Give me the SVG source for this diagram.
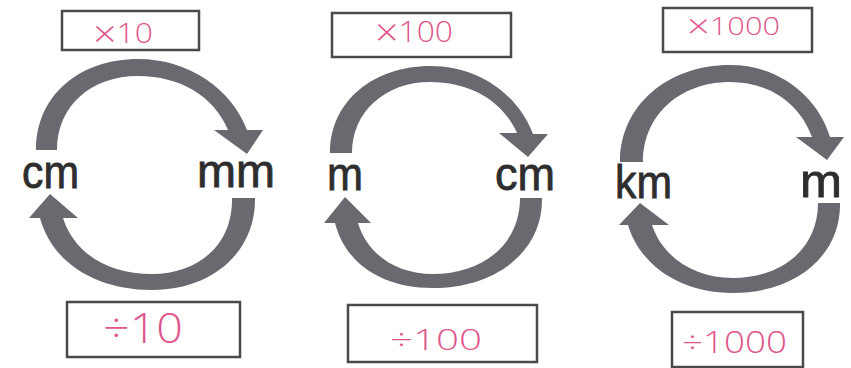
<svg xmlns="http://www.w3.org/2000/svg" width="851" height="368" viewBox="0 0 851 368">
  <style>
    .box { fill: #ffffff; stroke: #4a4a4a; stroke-width: 2.5; }
    .op { font-family: "Open Sans", "Liberation Sans", sans-serif; font-weight: 300; fill: #e0568c; }
    .sign { font-size: 1.3em; }
    .unit { font-family: "Liberation Sans", Arial, sans-serif; font-size: 46px; fill: #2e2e2e; stroke: #2e2e2e; stroke-width: 0.8; }
    .arrow { fill: #69696f; }
  </style>
  <rect width="851" height="368" fill="#ffffff"/>

  <!-- curved conversion arrows -->
  <g id="connectors">
    <path class="arrow" d="M36,150 C36,95 80,59 138,59 C190,59 232,90 247,130 L263,130 L247,154 L214,130 L228,130 C214,96 180,76 138,76 C92,76 57,105 57,150 Z"/>
    <path class="arrow" d="M255,198 C256,252 212,290 152,290 C95,290 52,262 40,218 L29,218 L50,194 L78,218 L63,218 C75,255 110,274 152,274 C198,274 233,245 232,198 Z"/>
    <path class="arrow" d="M330,153 C330,100 375,66 430,66 C480,66 518,95 533,134 L548,134 L528,157 L499,133 L517,133 C503,102 472,82 430,82 C385,82 352,112 352,153 Z"/>
    <path class="arrow" d="M542,198 C543,252 495,288 433,288 C380,288 345,262 335,223 L324,223 L345,197 L371,223 L358,223 C368,256 398,274 433,274 C482,274 520,245 520,198 Z"/>
    <path class="arrow" d="M620,162 C620,105 668,65 730,65 C780,65 818,97 830,137 L844,137 L827,160 L796,137 L812,137 C800,104 770,82 730,82 C680,82 643,115 643,162 Z"/>
    <path class="arrow" d="M840,203 C841,256 795,293 733,293 C680,293 640,265 628,225 L619,225 L640,203 L669,225 L652,225 C663,258 695,278 733,278 C780,278 818,250 818,203 Z"/>
  </g>

  <!-- cm / mm -->
  <g id="cm-1"><text class="unit" x="22" y="188" textLength="57" lengthAdjust="spacingAndGlyphs">cm</text></g>
  <g id="mm"><text class="unit" x="197" y="187" textLength="78" lengthAdjust="spacingAndGlyphs">mm</text></g>
  <g id="times-10">
    <rect class="box" x="62" y="11" width="137" height="39"/>
    <text class="op" x="93" y="43" font-size="28" textLength="60" lengthAdjust="spacingAndGlyphs"><tspan class="sign" dy="4">×</tspan><tspan dy="-4">10</tspan></text>
  </g>
  <g id="div-10">
    <rect class="box" x="67" y="302" width="173" height="55"/>
    <text class="op" x="103" y="343" font-size="42" textLength="80" lengthAdjust="spacingAndGlyphs">÷10</text>
  </g>

  <!-- m / cm -->
  <g id="m-1"><text class="unit" x="327" y="190" textLength="36" lengthAdjust="spacingAndGlyphs">m</text></g>
  <g id="cm-2"><text class="unit" x="495" y="190" textLength="60" lengthAdjust="spacingAndGlyphs">cm</text></g>
  <g id="times-100">
    <rect class="box" x="332" y="13" width="179" height="44"/>
    <text class="op" x="375" y="42" font-size="30" textLength="78" lengthAdjust="spacingAndGlyphs"><tspan class="sign" dy="4">×</tspan><tspan dy="-4">100</tspan></text>
  </g>
  <g id="div-100">
    <rect class="box" x="348" y="305" width="189" height="57"/>
    <text class="op" x="390" y="350" font-size="30" textLength="92" lengthAdjust="spacingAndGlyphs">÷100</text>
  </g>

  <!-- km / m -->
  <g id="km"><text class="unit" x="615" y="198" textLength="57" lengthAdjust="spacingAndGlyphs">km</text></g>
  <g id="m-2"><text class="unit" x="800" y="197" textLength="42" lengthAdjust="spacingAndGlyphs">m</text></g>
  <g id="times-1000">
    <rect class="box" x="663" y="8" width="149" height="44"/>
    <text class="op" x="687" y="35" font-size="25" textLength="93" lengthAdjust="spacingAndGlyphs"><tspan class="sign" dy="3">×</tspan><tspan dy="-3">1000</tspan></text>
  </g>
  <g id="div-1000">
    <rect class="box" x="672" y="312" width="131" height="55"/>
    <text class="op" x="682" y="353" font-size="32" textLength="105" lengthAdjust="spacingAndGlyphs">÷1000</text>
  </g>
</svg>
